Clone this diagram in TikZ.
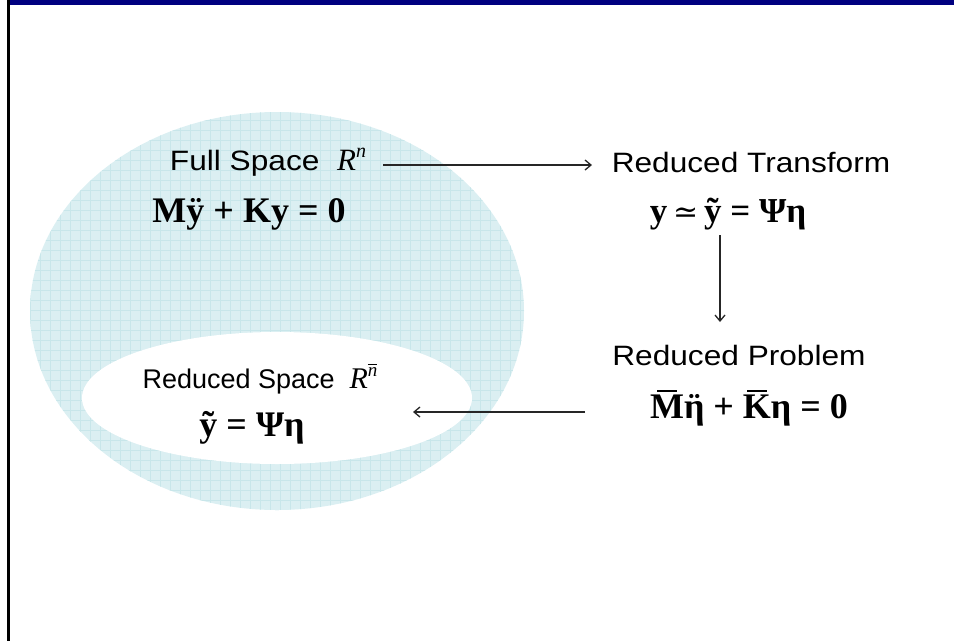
\documentclass[tikz,border=0pt]{standalone}
\usepackage{fontspec}
\setmainfont{Liberation Sans}[FakeStretch=1.13]
\newfontfamily\arialn{Liberation Sans}
\newfontfamily\tms{Liberation Serif}
\newfontfamily\dvs{DejaVu Serif}
\usetikzlibrary{arrows.meta}
\definecolor{navybar}{RGB}{0,0,128}
\definecolor{cyanfill}{RGB}{219,239,242}
\definecolor{gridc}{RGB}{200,230,234}
\newcommand\barC[1]{\ooalign{#1\cr\hidewidth\raisebox{0.74em}{\rule{0.55em}{0.045em}}\hidewidth\cr}}
\newcommand\ddotC[1]{\ooalign{#1\cr\hidewidth ¨\hidewidth\cr}}
\newcommand\supn{\raisebox{0.40em}{\fontsize{20}{20}\selectfont n}}
\newcommand\supnbar{\raisebox{0.40em}{\fontsize{19}{19}\selectfont\ooalign{n\cr\hidewidth\raisebox{0.62em}{\rule{0.5em}{0.05em}}\hidewidth\cr}}}
\begin{document}
\begin{tikzpicture}[x=1pt,y=-1pt,
  lbl/.style={font=\fontsize{28}{30}\selectfont, inner sep=0pt},
  eq/.style={font=\fontsize{36}{40}\selectfont\tms\bfseries, inner sep=0pt},
  arr/.style={line width=1.3pt, draw=black!85, -{Straight Barb[length=6pt,width=10pt]}}]
\useasboundingbox (0,0) rectangle (954,641);
% frame
\fill[navybar] (7,0) rectangle (954,5);
\draw[line width=2.5pt] (8.5,0) -- (8.5,641);
% outer ellipse with grid texture
\begin{scope}
  \clip (277,311) ellipse [x radius=247, y radius=199];
  \fill[cyanfill] (20,100) rectangle (540,520);
  \draw[gridc, line width=0.6pt, step=10pt] (20,100) grid (540,520);
\end{scope}
\fill[white] (277,398) ellipse [x radius=195, y radius=66];
% labels
\node[lbl] (fs) at (268,162) {Full Space\ \ {\tms\itshape\fontsize{31}{31}\selectfont R\supn}};
\node[eq] (eq1) at (249,214) {Mÿ + Ky = 0};
\node[lbl] (rt) at (751,162) {Reduced Transform};
\node[eq,font=\fontsize{35}{40}\selectfont\tms\bfseries] (eq2) at (728,214) {y\,{\dvs\mdseries\fontsize{30}{30}\selectfont ≃}\,ỹ = Ψη};
\node[lbl] (rp) at (739,355) {Reduced Problem};
\node[eq] (eq3) at (749,410) {\barC{M}\ddotC{η} + \barC{K}η = 0};
\node[lbl,font=\fontsize{27}{29}\arialn\selectfont] (rs) at (260,381) {Reduced Space\ \ {\tms\itshape\fontsize{30}{30}\selectfont R\supnbar}};
\node[eq] (eq4) at (252,428) {ỹ = Ψη};
% connectors
\coordinate (a1s) at (383,165);
\coordinate (a1e) at (592,165);
\coordinate (a2s) at (720,235);
\coordinate (a2e) at (720,322);
\coordinate (a3s) at (585,412);
\coordinate (a3e) at (413,412);
\draw[arr] (a1s) -- (a1e);
\draw[arr] (a2s) -- (a2e);
\draw[arr] (a3s) -- (a3e);
\end{tikzpicture}
\end{document}
